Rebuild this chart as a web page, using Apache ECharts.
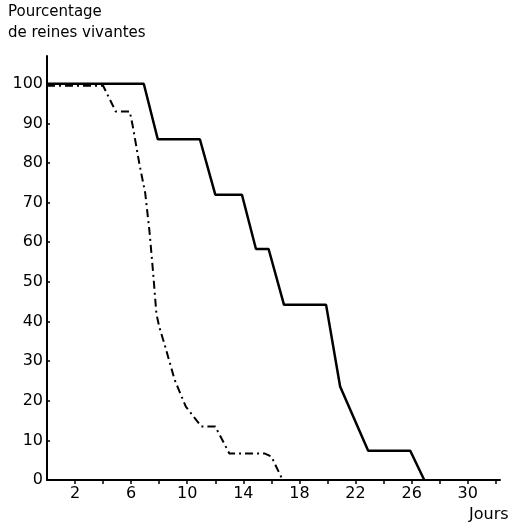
<!DOCTYPE html>
<html>
<head>
<meta charset="utf-8">
<script src="https://cdn.jsdelivr.net/npm/echarts@6/dist/echarts.min.js"></script>
<style>html,body{margin:0;padding:0;background:#fff}#c{width:519px;height:524px}</style>
</head>
<body>
<div id="c"></div>
<script>
// Solid line: [day, percent]
var solidDays = [0, 6.9, 7.9, 10.9, 12, 13.9, 14.9, 15.8, 16.9, 19.9, 20.9, 22.9, 25.9, 26.9];
var solidPct  = [100, 100, 86, 86, 72, 72, 58.3, 58.3, 44.2, 44.2, 23.6, 7.4, 7.4, 0];
// Dash-dot line
var dashDays = [0, 4, 4.9, 5.9, 6.1, 6.6, 7, 7.3, 7.55, 7.8, 8, 8.4, 9.1, 9.9, 11, 12, 13, 15.5, 16, 16.8];
var dashPct  = [99.5, 99.5, 93, 93, 89.6, 79.5, 72.5, 63, 53, 42, 38.7, 34, 25.3, 18.5, 13.5, 13.5, 6.7, 6.7, 5.9, 0];
// Ticks / labels
var xTickValues = [2,4,6,8,10,12,14,16,18,20,22,24,26,28,30,32];
var xLabelValues = [2,6,10,14,18,22,26,30];
var yTickValues = [0,10,20,30,40,50,60,70,80,90,100];

function pairs(xs, ys){ return xs.map(function(x,i){ return [x, ys[i]]; }); }

var font = 'DejaVu Sans';
var chart = echarts.init(document.getElementById('c'), null, {renderer:'canvas'});
chart.setOption({
  animation: false,
  backgroundColor: '#fff',
  grid: {left: 47, right: 19, top: 56, bottom: 44, containLabel: false},
  xAxis: {
    type: 'value', min: 0, max: 32.3,
    axisLine: {show: true, onZero: false, lineStyle: {color: '#000', width: 2}},
    axisTick: {show: true, customValues: xTickValues, length: 4, lineStyle: {color: '#000', width: 1.5}},
    axisLabel: {customValues: xLabelValues, color: '#000', fontFamily: font, fontSize: 16, margin: 6},
    splitLine: {show: false}
  },
  yAxis: {
    type: 'value', min: 0, max: 107,
    axisLine: {show: true, onZero: false, lineStyle: {color: '#000', width: 2}},
    axisTick: {show: true, inside: true, customValues: yTickValues, length: 3, lineStyle: {color: '#000', width: 1.5}},
    axisLabel: {customValues: yTickValues, color: '#000', fontFamily: font, fontSize: 16, margin: 4},
    splitLine: {show: false}
  },
  graphic: [
    {type: 'text', left: 8, top: 5, style: {text: 'Pourcentage', font: '15px "DejaVu Sans"', fill: '#000'}},
    {type: 'text', left: 8, top: 26, style: {text: 'de reines vivantes', font: '15px "DejaVu Sans"', fill: '#000'}},
    {type: 'text', left: 469, top: 507, style: {text: 'Jours', font: '16px "DejaVu Sans"', fill: '#000'}}
  ],
  series: [
    {type: 'line', data: pairs(solidDays, solidPct), showSymbol: false, lineStyle: {color: '#000', width: 2.5}, z: 3},
    {type: 'line', data: pairs(dashDays, dashPct), showSymbol: false, lineStyle: {color: '#000', width: 2, type: [8,4,2,4]}, z: 2}
  ]
});
</script>
</body>
</html>
